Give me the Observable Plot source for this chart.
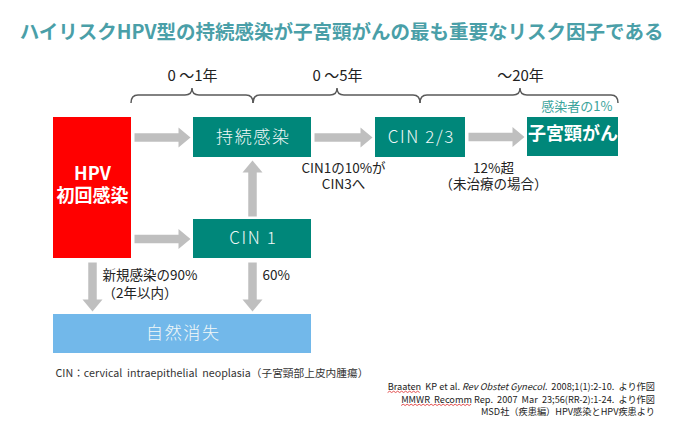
<!DOCTYPE html>
<html><head><meta charset="utf-8">
<script src="https://cdn.jsdelivr.net/npm/d3@7"></script>
<script src="https://cdn.jsdelivr.net/npm/@observablehq/plot@0.6"></script>
<style>body{margin:0;background:#fff} svg{display:block}</style>
</head><body><div id="chart"></div>
<script>
// ---- data ----
const title = "ハイリスクHPV型の持続感染が子宮頸がんの最も重要なリスク因子である";
const stages = ["HPV\n初回感染", "持続感染", "CIN 1", "CIN 2/3", "子宮頸がん", "自然消失"];
const stageKinds = ["onset", "lesion", "lesion", "lesion", "cancer", "clearance"];
const transitions = [
  ["HPV\n初回感染", "持続感染"], ["HPV\n初回感染", "CIN 1"], ["HPV\n初回感染", "自然消失"],
  ["CIN 1", "持続感染"], ["CIN 1", "自然消失"], ["持続感染", "CIN 2/3"], ["CIN 2/3", "子宮頸がん"]
];
const periods = ["0 〜1年", "0 〜5年", "〜20年"];
const cancerShare = ["感染者の1%"];
const progressionNotes = ["CIN1の10%が\nCIN3へ", "12%超\n（未治療の場合）"];
const clearanceNotes = ["新規感染の90%\n（2年以内）", "60%"];
const footnote = ["CIN：cervical  intraepithelial  neoplasia（子宮頸部上皮内腫瘍）"];
const references = [
  [{t: "Braaten", wavy: true}, {t: "  KP et al. "}, {t: "Rev Obstet Gynecol.", italic: true}, {t: "  2008;1(1):2-10.  より作図"}],
  [{t: "MMWR  Recomm", wavy: true}, {t: " Rep.  2007  Mar  23;56(RR-2):1-24.  より作図"}],
  [{t: "MSD社（疾患編）HPV感染とHPV疾患より"}]
];

// ---- layout (diagram coordinates) ----
const layout = {
  boxes: {
    "HPV\n初回感染": [53, 131, 117, 258],
    "持続感染": [193, 311, 117, 157],
    "CIN 1": [193, 311, 219, 258],
    "CIN 2/3": [375, 465, 117, 157],
    "子宮頸がん": [527, 618, 117, 156],
    "自然消失": [53, 311, 314, 353]
  },
  braces: [[131, 253, 192], [253, 420, 337], [420, 618, 520]],
  braceY: {line: 95, end: 103, tip: 88},
  periodY: 76,
  shareAt: [612, 106],
  progressionAt: [[343, 175], [493, 175]],
  clearanceAt: [[102, 283], [262, 274]],
  footAt: [55, 373],
  refRight: 655, refY: [390, 403, 415]
};

const font = "'Noto Sans CJK JP', 'Noto Sans', sans-serif";
const kindOf = new Map(stages.map((s, i) => [s, stageKinds[i]]));

const arrows = transitions.map(([s, t]) => {
  const a = layout.boxes[s], b = layout.boxes[t];
  if (b[0] > a[1]) {
    const y = (b[2] + b[3]) / 2;
    return {x1: a[1] + 3, y1: y, x2: b[0] - 3, y2: y, angle: 0};
  }
  const x = (a[0] + a[1]) / 2;
  if (b[3] < a[2]) return {x1: x, y1: a[2] - 3, x2: x, y2: b[3] + 3, angle: -90};
  return {x1: x, y1: a[3] + 4, x2: x, y2: b[2] - 3, angle: 90};
});
const headLen = 12;
const arrowHead = {draw(ctx) { ctx.moveTo(0, 0); ctx.lineTo(-headLen, -10); ctx.lineTo(-headLen, 10); ctx.closePath(); }};
const rad = d => d.angle * Math.PI / 180;

function braceMark(index, scales) {
  const sx = scales && typeof scales.x === "function" ? scales.x : v => v;
  const sy = scales && typeof scales.y === "function" ? scales.y : v => v;
  const L = sy(layout.braceY.line), E = sy(layout.braceY.end), T = sy(layout.braceY.tip), r = 7;
  const g = d3.create("svg:g").attr("fill", "none").attr("stroke", "#5a5a5a").attr("stroke-width", 1.5);
  for (const [a0, b0, t0] of layout.braces) {
    const a = sx(a0), b = sx(b0), t = sx(t0);
    const p = d3.path();
    p.moveTo(a, E); p.quadraticCurveTo(a, L, a + r, L); p.lineTo(t - r, L);
    p.quadraticCurveTo(t, L, t, T); p.quadraticCurveTo(t, L, t + r, L);
    p.lineTo(b - r, L); p.quadraticCurveTo(b, L, b, E);
    g.append("path").attr("d", p.toString());
  }
  return g.node();
}

function referenceMark(index, scales) {
  const sx = scales && typeof scales.x === "function" ? scales.x : v => v;
  const sy = scales && typeof scales.y === "function" ? scales.y : v => v;
  const g = d3.create("svg:g").attr("class", "refs").attr("font-family", font).attr("font-size", 9.2).attr("fill", "#222");
  references.forEach((parts, i) => {
    const text = g.append("text").attr("x", sx(layout.refRight)).attr("y", sy(layout.refY[i]))
      .attr("text-anchor", "end").style("white-space", "pre");
    for (const p of parts) {
      const ts = text.append("tspan").text(p.t);
      if (p.italic) ts.attr("font-style", "italic");
      if (p.wavy) ts.attr("class", "wavy");
    }
  });
  return g.node();
}

const boxText = s => kindOf.get(s) === "lesion" || kindOf.get(s) === "clearance";

const chart = Plot.plot({
  width: 678, height: 443, margin: 0,
  x: {domain: [0, 678], range: [0, 678], axis: null},
  y: {domain: [0, 443], range: [0, 443], axis: null},
  color: {domain: ["onset", "lesion", "cancer", "clearance"], range: ["#ff0000", "#00877a", "#00877a", "#72b8ea"]},
  style: {fontFamily: font, background: "#fff"},
  marks: [
    Plot.text([title], {x: 341, y: 32, text: d => d, fontSize: 19.5, fontWeight: "bold", fill: "#4a9fa8"}),
    braceMark,
    Plot.text(periods, {x: (d, i) => layout.braces[i][2], y: layout.periodY, text: d => d, fontSize: 15, fill: "#222"}),
    Plot.text(cancerShare, {x: layout.shareAt[0], y: layout.shareAt[1], text: d => d, textAnchor: "end", fontSize: 13, fill: "#3aa39b"}),
    Plot.rect(stages, {
      x1: d => layout.boxes[d][0], x2: d => layout.boxes[d][1],
      y1: d => layout.boxes[d][2], y2: d => layout.boxes[d][3],
      fill: d => kindOf.get(d), inset: 0
    }),
    Plot.link(arrows, {x1: "x1", y1: "y1", x2: d => d.x2 - (headLen - 1) * Math.cos(rad(d)), y2: d => d.y2 - (headLen - 1) * Math.sin(rad(d)),
      stroke: "#bfbfbf", strokeWidth: 8.5, strokeLinecap: "butt"}),
    Plot.dot(arrows, {x: "x2", y: "y2", symbol: arrowHead, rotate: "angle", fill: "#bfbfbf", stroke: null, r: 5}),
    Plot.text(stages.filter(boxText), {
      x: d => (layout.boxes[d][0] + layout.boxes[d][1]) / 2 + 0.8, y: d => (layout.boxes[d][2] + layout.boxes[d][3]) / 2,
      text: d => d, fontSize: 17, fontWeight: 300, fill: "#f2f8f8"
    }),
    Plot.text(stages.filter(s => !boxText(s)), {
      x: d => (layout.boxes[d][0] + layout.boxes[d][1]) / 2, y: d => (layout.boxes[d][2] + layout.boxes[d][3]) / 2 - 4,
      text: d => d, fontSize: 18, fontWeight: "bold", fill: "#fff", lineHeight: 1.2
    }),
    Plot.text(progressionNotes, {
      x: (d, i) => layout.progressionAt[i][0], y: (d, i) => layout.progressionAt[i][1],
      text: d => d, fontSize: 13.5, fill: "#222", lineHeight: 1.2
    }),
    Plot.text(clearanceNotes, {
      x: (d, i) => layout.clearanceAt[i][0], y: (d, i) => layout.clearanceAt[i][1],
      textAnchor: "start", text: d => d, fontSize: 13.5, fill: "#222", lineHeight: 1.33
    }),
    Plot.text(footnote, {x: layout.footAt[0], y: layout.footAt[1], text: d => d, textAnchor: "start", fontSize: 10.7, fill: "#333"}),
    referenceMark
  ]
});
document.getElementById("chart").appendChild(chart);

// letter spacing for box labels
d3.select(chart).selectAll("text").filter(function () { return stages.filter(boxText).includes(this.textContent); })
  .style("letter-spacing", "1.6px");

// red wavy spell-check underlines
d3.select(chart).selectAll("tspan.wavy").each(function () {
  const n = this.getNumberOfChars();
  const x0 = this.getStartPositionOfChar(0).x, x1 = this.getEndPositionOfChar(n - 1).x;
  const y = this.getStartPositionOfChar(0).y + 2.5;
  const p = d3.path(); p.moveTo(x0, y);
  let up = true;
  for (let x = x0 + 2; x <= x1; x += 2) { p.lineTo(x, up ? y - 1.3 : y); up = !up; }
  d3.select(this.ownerSVGElement).append("path").attr("d", p.toString())
    .attr("fill", "none").attr("stroke", "#e03c3c").attr("stroke-width", 0.9);
});
</script>
</body></html>
